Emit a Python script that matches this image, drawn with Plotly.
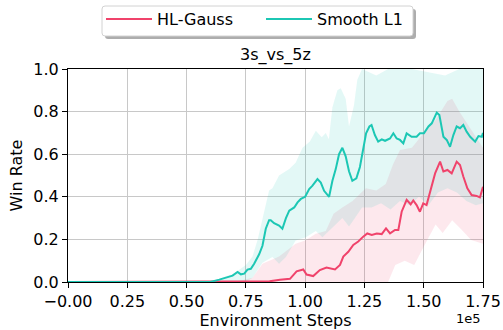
import plotly.graph_objects as go

# ---- data (x in units of 1e5 environment steps) ----
teal_x = [0.0, 0.60, 0.638, 0.666, 0.694, 0.715, 0.729, 0.743, 0.757, 0.771, 0.785, 0.806, 0.82,
          0.834, 0.848, 0.855, 0.869, 0.89, 0.904, 0.919, 0.933, 0.954, 0.968, 0.982, 1.0, 1.017,
          1.031, 1.052, 1.066, 1.08, 1.101, 1.115, 1.129, 1.143, 1.157, 1.171, 1.185, 1.199,
          1.216, 1.231, 1.245, 1.257, 1.271, 1.28, 1.294, 1.308, 1.323, 1.337, 1.358, 1.372,
          1.386, 1.40, 1.414, 1.428, 1.449, 1.47, 1.484, 1.501, 1.52, 1.534, 1.555, 1.566,
          1.583, 1.597, 1.611, 1.625, 1.639, 1.653, 1.667, 1.681, 1.696, 1.717, 1.731, 1.745, 1.75]
teal_y = [0.0, 0.0, 0.011, 0.02, 0.03, 0.047, 0.036, 0.039, 0.058, 0.062, 0.086, 0.13, 0.17,
          0.25, 0.29, 0.29, 0.276, 0.265, 0.25, 0.30, 0.335, 0.35, 0.374, 0.39, 0.40, 0.436,
          0.452, 0.483, 0.467, 0.428, 0.40, 0.475, 0.53, 0.60, 0.63, 0.59, 0.52, 0.475,
          0.487, 0.54, 0.62, 0.698, 0.73, 0.737, 0.69, 0.659, 0.67, 0.663, 0.674, 0.698,
          0.674, 0.667, 0.651, 0.698, 0.682, 0.682, 0.698, 0.698, 0.73, 0.745, 0.795, 0.784,
          0.682, 0.667, 0.635, 0.69, 0.73, 0.722, 0.737, 0.706, 0.682, 0.659, 0.685, 0.682, 0.70]

pink_x = [0.0, 0.60, 0.85, 0.894, 0.936, 0.964, 0.992, 1.006, 1.034, 1.062, 1.09, 1.126, 1.147,
          1.161, 1.182, 1.203, 1.224, 1.245, 1.262, 1.281, 1.302, 1.323, 1.341, 1.358, 1.379,
          1.393, 1.407, 1.428, 1.445, 1.456, 1.47, 1.484, 1.498, 1.512, 1.529, 1.548, 1.569,
          1.583, 1.60, 1.618, 1.639, 1.653, 1.667, 1.684, 1.702, 1.723, 1.737, 1.75]
pink_y = [0.0, 0.0, 0.003, 0.011, 0.015, 0.05, 0.059, 0.035, 0.028, 0.056, 0.068, 0.059, 0.08,
          0.119, 0.142, 0.174, 0.19, 0.213, 0.228, 0.221, 0.228, 0.225, 0.252, 0.228, 0.244,
          0.244, 0.33, 0.386, 0.365, 0.383, 0.361, 0.33, 0.369, 0.361, 0.432, 0.51, 0.565,
          0.519, 0.526, 0.51, 0.565, 0.549, 0.495, 0.44, 0.408, 0.404, 0.397, 0.447]

teal_up_x = [0.0, 0.60, 0.65, 0.70, 0.75, 0.778, 0.80, 0.82, 0.848, 0.862, 0.89, 0.933, 0.96,
             0.989, 1.02, 1.045, 1.07, 1.087, 1.10, 1.115, 1.136, 1.15, 1.171, 1.185, 1.206,
             1.22, 1.24, 1.30, 1.35, 1.45, 1.59, 1.65, 1.75]
teal_up_y = [0.0, 0.0, 0.02, 0.04, 0.08, 0.12, 0.20, 0.30, 0.43, 0.44, 0.50, 0.53, 0.56,
             0.63, 0.66, 0.71, 0.68, 0.70, 0.67, 0.82, 0.90, 0.91, 0.86, 0.73, 0.83,
             0.95, 1.0, 0.97, 1.0, 1.0, 0.97, 1.0, 1.0]
teal_lo_x = [0.0, 0.75, 0.778, 0.82, 0.862, 0.89, 0.919, 0.96, 1.003, 1.045, 1.073, 1.115,
             1.157, 1.185, 1.21, 1.24, 1.28, 1.32, 1.36, 1.40, 1.44, 1.48, 1.52, 1.56, 1.60,
             1.64, 1.68, 1.72, 1.75]
teal_lo_y = [0.0, 0.0, 0.02, 0.09, 0.117, 0.086, 0.117, 0.195, 0.21, 0.24, 0.21, 0.257,
             0.30, 0.26, 0.30, 0.35, 0.35, 0.37, 0.34, 0.38, 0.36, 0.40, 0.36, 0.42, 0.44,
             0.42, 0.38, 0.36, 0.37]

pink_up_x = [0.0, 0.70, 0.778, 0.82, 0.89, 0.96, 1.0, 1.045, 1.087, 1.12, 1.157, 1.20, 1.256,
             1.30, 1.34, 1.37, 1.40, 1.45, 1.50, 1.55, 1.60, 1.62, 1.65, 1.69, 1.75]
pink_up_y = [0.0, 0.0, 0.02, 0.086, 0.12, 0.18, 0.195, 0.226, 0.24, 0.32, 0.35, 0.38, 0.44,
             0.43, 0.46, 0.55, 0.62, 0.63, 0.70, 0.76, 0.85, 0.86, 0.80, 0.73, 0.63]
pink_lo_x = [0.0, 1.35, 1.38, 1.42, 1.46, 1.50, 1.55, 1.58, 1.62, 1.66, 1.70, 1.75]
pink_lo_y = [0.0, 0.0, 0.08, 0.10, 0.08, 0.166, 0.27, 0.23, 0.29, 0.245, 0.197, 0.18]

x_ticks = [0.0, 0.25, 0.50, 0.75, 1.00, 1.25, 1.50, 1.75]
x_tick_text = ["\u22120.00", "0.25", "0.50", "0.75", "1.00", "1.25", "1.50", "1.75"]
y_ticks = [0.0, 0.2, 0.4, 0.6, 0.8, 1.0]
y_tick_text = ["0.0", "0.2", "0.4", "0.6", "0.8", "1.0"]

SCALE = 1e5
PINK = "#F0436B"
TEAL = "#1CC7B4"
PINK_FILL = "rgba(240,67,107,0.12)"
TEAL_FILL = "rgba(28,199,180,0.12)"

def sx(v):
    return [a * SCALE for a in v]

def band(ux, uy, lx, ly):
    return sx(ux) + sx(lx[::-1]), list(uy) + list(ly[::-1])

fig = go.Figure()
bx, by = band(pink_up_x, pink_up_y, pink_lo_x, pink_lo_y)
fig.add_trace(go.Scatter(x=bx, y=by, fill="toself", fillcolor=PINK_FILL, line=dict(width=0),
                         mode="lines", showlegend=False, hoverinfo="skip"))
bx, by = band(teal_up_x, teal_up_y, teal_lo_x, teal_lo_y)
fig.add_trace(go.Scatter(x=bx, y=by, fill="toself", fillcolor=TEAL_FILL, line=dict(width=0),
                         mode="lines", showlegend=False, hoverinfo="skip"))
fig.add_trace(go.Scatter(x=sx(pink_x), y=pink_y, mode="lines", name="HL-Gauss",
                         line=dict(color=PINK, width=2)))
fig.add_trace(go.Scatter(x=sx(teal_x), y=teal_y, mode="lines", name="Smooth L1",
                         line=dict(color=TEAL, width=2)))

FONT = "DejaVu Sans"
FS = 16
L, R, T, B = 68, 20, 69, 48
W, H = 503, 330
pw, ph = W - L - R, H - T - B

def px2paper(px, py):
    return (px - L) / pw, (H - B - py) / ph

def rounded_rect(x0, y0, x1, y1, r):
    # pixel corners -> paper-coordinate rounded rectangle path
    rx, ry = r / pw, r / ph
    a0, b0 = px2paper(x0, y1)  # bottom-left
    a1, b1 = px2paper(x1, y0)  # top-right
    return (f"M {a0+rx},{b0} L {a1-rx},{b0} Q {a1},{b0} {a1},{b0+ry} "
            f"L {a1},{b1-ry} Q {a1},{b1} {a1-rx},{b1} L {a0+rx},{b1} "
            f"Q {a0},{b1} {a0},{b1-ry} L {a0},{b0+ry} Q {a0},{b0} {a0+rx},{b0} Z")

# legend frame with shadow (matplotlib-style fancy box)
fig.add_shape(type="path", xref="paper", yref="paper", path=rounded_rect(105, 9, 416, 39, 3),
              fillcolor="rgba(0,0,0,0.32)", line=dict(width=0), layer="above")
fig.add_shape(type="path", xref="paper", yref="paper", path=rounded_rect(102, 6, 413, 36, 3),
              fillcolor="white", line=dict(color="#d2d2d2", width=1), layer="above")

lx, ly = px2paper(101, 2)
fig.update_layout(
    width=W, height=H,
    margin=dict(l=L, r=R, t=T, b=B, autoexpand=False),
    paper_bgcolor="white", plot_bgcolor="white",
    font=dict(family=FONT, size=FS, color="black"),
    showlegend=True,
    legend=dict(orientation="h", x=lx, y=ly, xanchor="left", yanchor="top",
                bgcolor="rgba(0,0,0,0)", borderwidth=0,
                font=dict(size=FS), entrywidth=99, itemwidth=46),
    xaxis=dict(range=[0, 1.75 * SCALE], tickvals=sx(x_ticks), ticktext=x_tick_text,
               showgrid=True, gridcolor="#c8c8c8", gridwidth=1, zeroline=False,
               showline=True, linecolor="black", linewidth=1, mirror=True,
               ticks="outside", ticklen=5, tickcolor="black", automargin=False,
               title=dict(text="Environment Steps", standoff=2, font=dict(size=FS))),
    yaxis=dict(range=[0, 1.0], tickvals=y_ticks, ticktext=y_tick_text,
               showgrid=True, gridcolor="#c8c8c8", gridwidth=1, zeroline=False,
               showline=True, linecolor="black", linewidth=1, mirror=True,
               ticks="outside", ticklen=5, tickcolor="black", automargin=False,
               title=dict(text="Win Rate", standoff=6, font=dict(size=FS))),
    annotations=[
        dict(text="3s_vs_5z", xref="paper", yref="paper", x=0.5, y=1, xanchor="center",
             yanchor="bottom", yshift=2, showarrow=False, font=dict(size=FS)),
        dict(text="1e5", xref="paper", yref="paper", x=1, y=0, xanchor="right",
             yanchor="top", yshift=-27, showarrow=False, font=dict(size=13)),
    ],
)
fig.write_html("out.html")
